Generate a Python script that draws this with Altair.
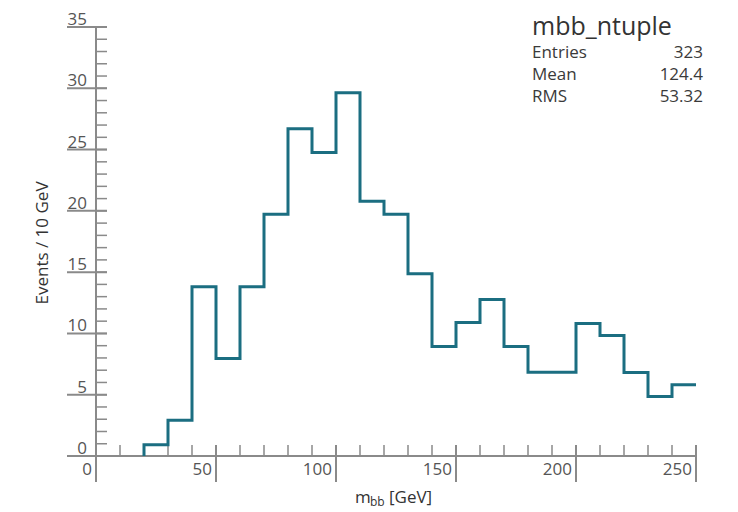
import altair as alt
import pandas as pd

# ---- data ----
bin_low = [20, 30, 40, 50, 60, 70, 80, 90, 100, 110, 120, 130, 140, 150,
           160, 170, 180, 190, 200, 210, 220, 230, 240]
counts = [0.91, 2.92, 13.8, 7.95, 13.8, 19.73, 26.7, 24.76, 29.63, 20.79,
          19.73, 14.87, 8.93, 10.89, 12.77, 8.93, 6.84, 6.84, 10.81, 9.83,
          6.81, 4.85, 5.81]
bin_width = 10

x_major = [0, 50, 100, 150, 200, 250]
x_minor = list(range(0, 251, 10))
y_major = [0, 5, 10, 15, 20, 25, 30, 35]
y_minor = list(range(0, 36))

stats_names = ["Entries", "Mean", "RMS"]
stats_values = ["323", "124.4", "53.32"]
hist_name = "mbb_ntuple"

# ---- layout ----
W, H = 600, 429
FONT = "Open Sans"
LINE = "#1b6e81"
AX = "#8a8a8a"
TXT = "#555555"

xs = alt.Scale(domain=[0, 250], nice=False, zero=False)
ys = alt.Scale(domain=[0, 35], nice=False, zero=True)

# histogram step outline
pts_x = [bin_low[0]] + bin_low + [bin_low[-1] + bin_width]
pts_y = [0] + counts + [counts[-1]]
hist_df = pd.DataFrame({"x": pts_x, "y": pts_y, "o": list(range(len(pts_x)))})

hist = alt.Chart(hist_df).mark_line(
    interpolate="step-after", color=LINE, strokeWidth=3
).encode(
    x=alt.X("x:Q", scale=xs, axis=None),
    y=alt.Y("y:Q", scale=ys, axis=None),
    order="o:Q",
)

# axes lines
yaxis_line = alt.Chart(pd.DataFrame({"v": [0]})).mark_rule(color=AX, strokeWidth=2).encode(
    x=alt.X("v:Q", scale=xs, axis=None), y=alt.value(0), y2=alt.value(H + 26)
)
xaxis_line = alt.Chart(pd.DataFrame({"v": [0]})).mark_rule(color=AX, strokeWidth=2).encode(
    y=alt.Y("v:Q", scale=ys, axis=None), x=alt.value(-29), x2=alt.value(W)
)

ymin_df = pd.DataFrame({"v": y_minor})
ymaj_df = pd.DataFrame({"v": y_major})
xmin_df = pd.DataFrame({"v": x_minor})
xmaj_df = pd.DataFrame({"v": x_major})

y_minor_ticks = alt.Chart(ymin_df).mark_rule(color=AX, strokeWidth=1.5).encode(
    y=alt.Y("v:Q", scale=ys, axis=None), x=alt.value(0), x2=alt.value(11)
)
y_major_ticks = alt.Chart(ymaj_df).mark_rule(color=AX, strokeWidth=2).encode(
    y=alt.Y("v:Q", scale=ys, axis=None), x=alt.value(-29), x2=alt.value(11)
)
y_labels = alt.Chart(ymaj_df).mark_text(
    align="right", baseline="alphabetic", dx=-9, dy=-2, font=FONT, fontSize=17, color=TXT
).encode(y=alt.Y("v:Q", scale=ys, axis=None), x=alt.value(0), text="v:Q")

x_minor_ticks = alt.Chart(xmin_df).mark_rule(color=AX, strokeWidth=1.5).encode(
    x=alt.X("v:Q", scale=xs, axis=None), y=alt.value(H - 11), y2=alt.value(H)
)
x_major_ticks = alt.Chart(xmaj_df).mark_rule(color=AX, strokeWidth=2).encode(
    x=alt.X("v:Q", scale=xs, axis=None), y=alt.value(H - 11), y2=alt.value(H + 26)
)
x_labels = alt.Chart(xmaj_df).mark_text(
    align="right", baseline="alphabetic", dx=-4, font=FONT, fontSize=17, color=TXT
).encode(x=alt.X("v:Q", scale=xs, axis=None), y=alt.value(H + 19), text="v:Q")

# axis titles
one = pd.DataFrame({"a": [0]})
y_title = alt.Chart(one).mark_text(
    angle=270, align="center", baseline="middle", font=FONT, fontSize=17, color="#333333"
).encode(x=alt.value(-53), y=alt.value(216), text=alt.value("Events / 10 GeV"))

xt_m = alt.Chart(one).mark_text(
    align="left", baseline="alphabetic", font=FONT, fontSize=17, color="#333333"
).encode(x=alt.value(259), y=alt.value(H + 47), text=alt.value("m"))
xt_bb = alt.Chart(one).mark_text(
    align="left", baseline="alphabetic", font=FONT, fontSize=12, color="#333333"
).encode(x=alt.value(274), y=alt.value(H + 50), text=alt.value("bb"))
xt_gev = alt.Chart(one).mark_text(
    align="left", baseline="alphabetic", font=FONT, fontSize=17, color="#333333"
).encode(x=alt.value(293), y=alt.value(H + 47), text=alt.value("[GeV]"))

# stats box
name_txt = alt.Chart(one).mark_text(
    align="left", baseline="alphabetic", font=FONT, fontSize=25, color="#333333"
).encode(x=alt.value(436), y=alt.value(8), text=alt.value(hist_name))

stats_df = pd.DataFrame({"name": stats_names, "val": stats_values,
                         "row": list(range(len(stats_names)))})
stats_rows = alt.Scale(domain=[0, 2], range=[31, 75])
stat_names = alt.Chart(stats_df).mark_text(
    align="left", baseline="alphabetic", font=FONT, fontSize=17, color="#3a3a3a"
).encode(x=alt.value(436), y=alt.Y("row:Q", scale=stats_rows, axis=None), text="name:N")
stat_vals = alt.Chart(stats_df).mark_text(
    align="right", baseline="alphabetic", font=FONT, fontSize=17, color="#3a3a3a"
).encode(x=alt.value(607), y=alt.Y("row:Q", scale=stats_rows, axis=None), text="val:N")

chart = alt.layer(
    y_minor_ticks, y_major_ticks, x_minor_ticks, x_major_ticks,
    yaxis_line, xaxis_line, hist, y_labels, x_labels,
    y_title, xt_m, xt_bb, xt_gev, name_txt, stat_names, stat_vals,
).resolve_scale(y="independent").properties(
    width=W, height=H,
    autosize=alt.AutoSizeParams(type="none"),
    padding={"left": 88, "top": 19, "right": 26, "bottom": 56},
).configure_view(stroke=None)

chart.save("out.html", embed_options={"renderer": "svg", "actions": False})
